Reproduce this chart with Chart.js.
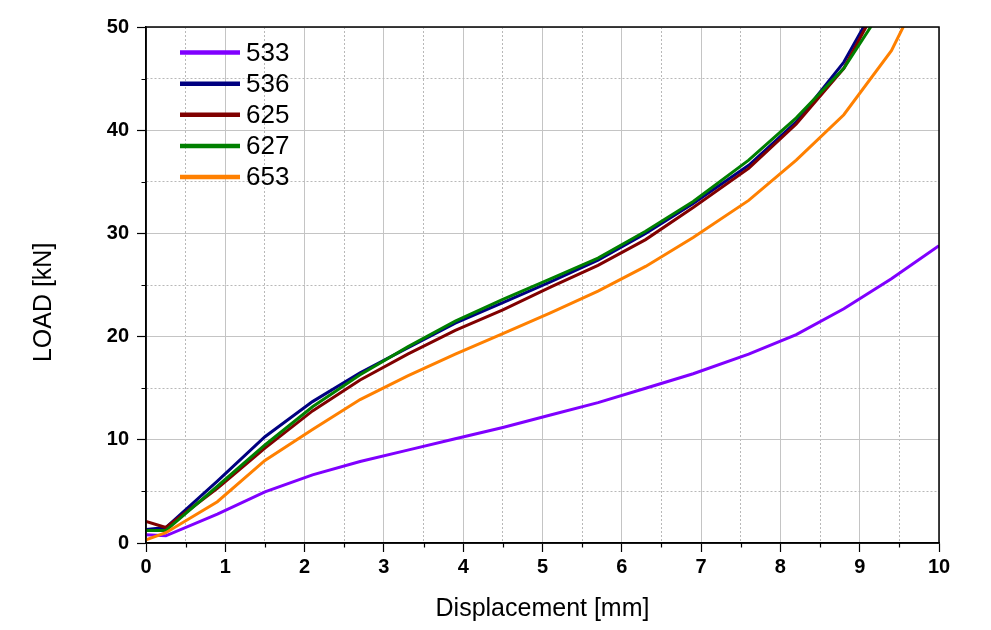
<!DOCTYPE html>
<html>
<head>
<meta charset="utf-8">
<script src="https://cdn.jsdelivr.net/npm/chart.js@4/dist/chart.umd.min.js"></script>
<style>
  html, body { margin: 0; padding: 0; background: #fff; }
  #wrap { width: 991px; height: 630px; }
</style>
</head>
<body>
<div id="wrap"><canvas id="c" width="991" height="630"></canvas></div>
<script>
// ---- data ----
const displacement = [0, 0.25, 0.9, 1.5, 2.1, 2.7, 3.3, 3.9, 4.5, 5.1, 5.7, 6.3, 6.9, 7.6, 8.2, 8.8, 9.4, 10.0];
const load533 = [0.8, 0.7, 2.8, 4.95, 6.6, 7.9, 9.0, 10.1, 11.2, 12.4, 13.6, 15.0, 16.4, 18.3, 20.2, 22.7, 25.6, 28.8];
const load536 = [1.3, 1.5, 6.0, 10.3, 13.7, 16.5, 18.9, 21.3, 23.3, 25.3, 27.4, 30.0, 32.9, 36.6, 40.8, 46.6, 54.8, 60];
const load625 = [2.1, 1.5, 5.3, 9.2, 12.8, 15.8, 18.3, 20.6, 22.6, 24.8, 26.9, 29.4, 32.5, 36.3, 40.6, 46.0, 54.6, 60];
const load627 = [1.2, 1.2, 5.5, 9.5, 13.2, 16.3, 19.0, 21.5, 23.6, 25.6, 27.6, 30.2, 33.1, 37.1, 41.2, 46.0, 53.1, 60];
const load653 = [0.3, 1.0, 4.0, 8.0, 11.0, 13.9, 16.2, 18.3, 20.3, 22.3, 24.4, 26.8, 29.6, 33.2, 37.1, 41.5, 47.7, 57];
const seriesNames = ['533', '536', '625', '627', '653'];
const seriesColors = ['#8000ff', '#000080', '#800000', '#008000', '#ff8000'];
const xTickLabels = ['0','1','2','3','4','5','6','7','8','9','10'];
const yTickLabels = ['0','10','20','30','40','50'];

const allLoads = [load533, load536, load625, load627, load653];
const FONT = '"Liberation Sans", Arial, sans-serif';

const datasets = allLoads.map((ys, i) => ({
  label: seriesNames[i],
  data: displacement.map((x, j) => ({ x: x, y: ys[j] })),
  borderColor: seriesColors[i],
  backgroundColor: seriesColors[i],
  borderWidth: 3,
  pointRadius: 0,
  tension: 0,
  fill: false,
  clip: 0,
  order: seriesNames.length - i
}));

const isMajorX = v => Math.abs(v - Math.round(v)) < 1e-6;
const isMajorY = v => Math.abs(v / 10 - Math.round(v / 10)) < 1e-6;

const framePlugin = {
  id: 'frame',
  afterDraw(chart) {
    const { ctx, chartArea: a, scales } = chart;
    ctx.save();
    // box
    ctx.strokeStyle = '#000';
    ctx.lineWidth = 1.5;
    ctx.strokeRect(a.left, a.top, a.right - a.left, a.bottom - a.top);
    // minor ticks
    ctx.lineWidth = 1.2;
    ctx.beginPath();
    scales.x.ticks.forEach(t => {
      if (!isMajorX(t.value)) {
        const px = Math.round(scales.x.getPixelForValue(t.value)) + 0.5;
        ctx.moveTo(px, a.bottom);
        ctx.lineTo(px, a.bottom + 4.5);
      }
    });
    scales.y.ticks.forEach(t => {
      if (!isMajorY(t.value)) {
        const py = Math.round(scales.y.getPixelForValue(t.value)) + 0.5;
        ctx.moveTo(a.left, py);
        ctx.lineTo(a.left - 4.5, py);
      }
    });
    ctx.stroke();
    // legend inside plot
    const lx0 = a.left + 34, lx1 = a.left + 94, tx = a.left + 100;
    ctx.font = '26px ' + FONT;
    ctx.textBaseline = 'middle';
    ctx.textAlign = 'left';
    chart.data.datasets.forEach((ds, i) => {
      const y = a.top + 25.5 + i * 31.15;
      ctx.strokeStyle = ds.borderColor;
      ctx.lineWidth = 4.5;
      ctx.beginPath();
      ctx.moveTo(lx0, y);
      ctx.lineTo(lx1, y);
      ctx.stroke();
      ctx.fillStyle = '#000';
      ctx.fillText(ds.label, tx, y + 1);
    });
    ctx.restore();
  }
};

new Chart(document.getElementById('c'), {
  type: 'line',
  data: { datasets },
  options: {
    responsive: false,
    animation: false,
    layout: { padding: { top: 27, right: 52, left: 29, bottom: 6 } },
    plugins: { legend: { display: false }, tooltip: { enabled: false } },
    scales: {
      x: {
        type: 'linear', min: 0, max: 10,
        afterFit: s => { s.height = 81; },
        ticks: {
          stepSize: 0.5,
          autoSkip: false,
          maxRotation: 0,
          padding: 3,
          color: '#000',
          font: { family: FONT, size: 20, weight: 'bold' },
          callback: v => isMajorX(v) ? xTickLabels[Math.round(v)] : ''
        },
        grid: {
          color: c => isMajorX(c.tick.value) ? '#c4c4c4' : '#b8b8b8',
          lineWidth: 1,
          tickLength: 9,
          tickWidth: 1.2,
          tickColor: c => isMajorX(c.tick.value) ? '#000' : 'rgba(0,0,0,0)',
          tickBorderDash: []
        },
        border: {
          display: true, color: '#000', width: 1.5,
          dash: c => isMajorX(c.tick.value) ? [] : [2, 2]
        },
        title: {
          display: true, text: 'Displacement [mm]', color: '#000',
          font: { family: FONT, size: 25 }, padding: { top: 0, bottom: 0 }
        }
      },
      y: {
        type: 'linear', min: 0, max: 50,
        afterFit: s => { s.width = 117; },
        ticks: {
          stepSize: 5,
          autoSkip: false,
          padding: 8,
          color: '#000',
          font: { family: FONT, size: 20, weight: 'bold' },
          callback: v => isMajorY(v) ? yTickLabels[Math.round(v / 10)] : ''
        },
        grid: {
          color: c => isMajorY(c.tick.value) ? '#c4c4c4' : '#b8b8b8',
          lineWidth: 1,
          tickLength: 9,
          tickWidth: 1.2,
          tickColor: c => isMajorY(c.tick.value) ? '#000' : 'rgba(0,0,0,0)',
          tickBorderDash: []
        },
        border: {
          display: true, color: '#000', width: 1.5,
          dash: c => isMajorY(c.tick.value) ? [] : [2, 2]
        },
        title: {
          display: true, text: 'LOAD [kN]     ', color: '#000',
          font: { family: FONT, size: 25 }, padding: { top: 0, bottom: 0 }
        }
      }
    }
  },
  plugins: [framePlugin]
});
</script>
</body>
</html>
